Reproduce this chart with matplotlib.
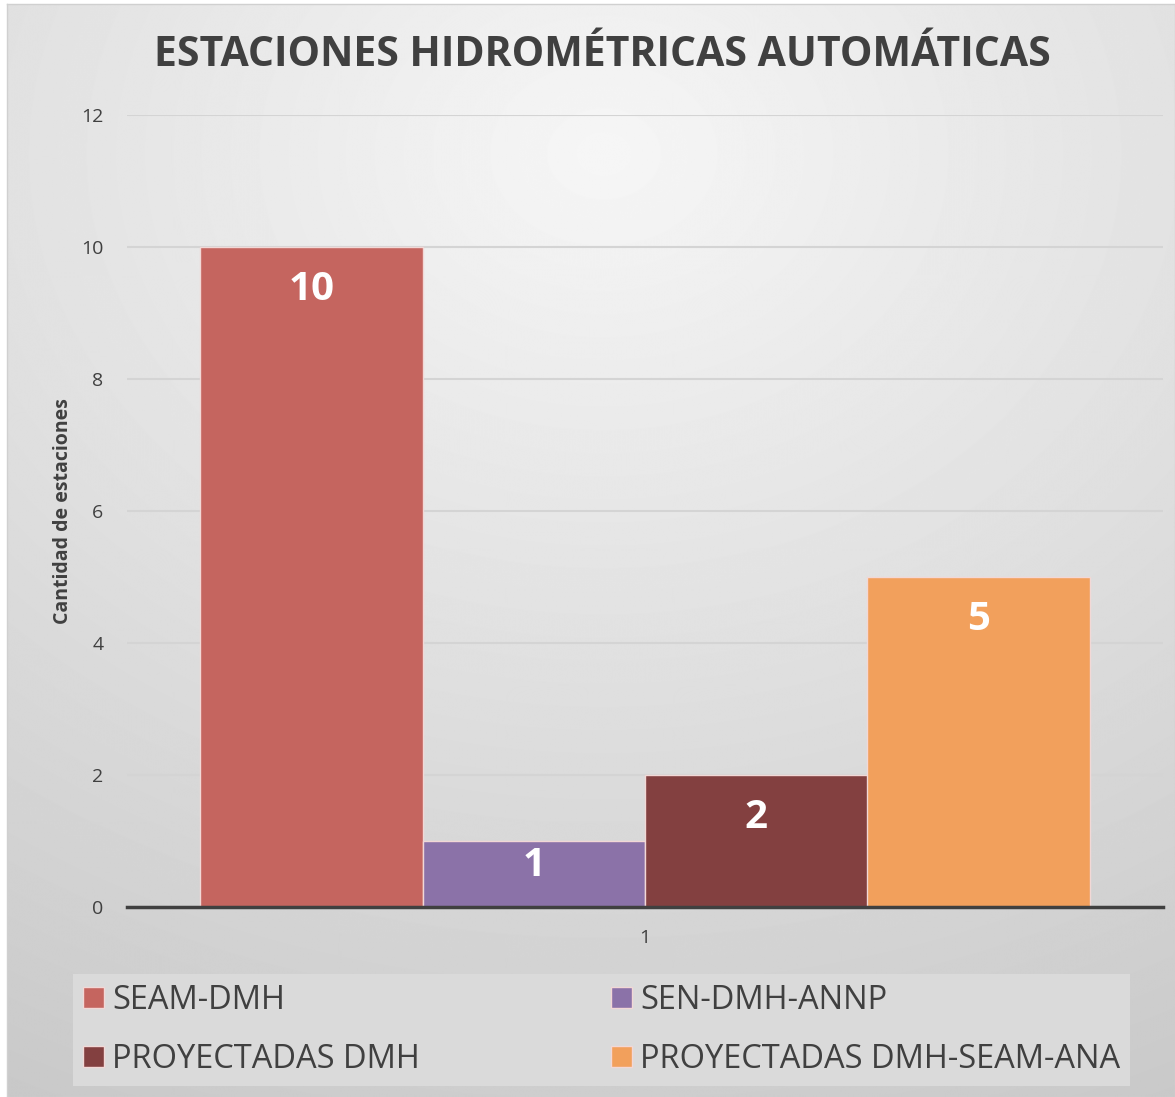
import matplotlib
matplotlib.use('Agg')
import matplotlib.pyplot as plt
import numpy as np

plt.rcParams['font.family'] = ['Open Sans', 'DejaVu Sans']

series = ['SEAM-DMH', 'SEN-DMH-ANNP', 'PROYECTADAS DMH', 'PROYECTADAS DMH-SEAM-ANA']
values = [10, 1, 2, 5]
colors = ['#C5655F', '#8B72A8', '#834040', '#F2A05C']
category = 1
yticks = [0, 2, 4, 6, 8, 10, 12]

W, H = 1175, 1097
fig = plt.figure(figsize=(W / 100, H / 100), dpi=100)
fig.patch.set_facecolor('white')

# ── background: soft gray gradient, brightest near the title ─────────────────
bg = fig.add_axes([7 / W, 0, 1 - 7 / W, 1 - 4 / H])
yy, xx = np.mgrid[0:H, 0:W]
r = np.sqrt(((xx - 600) * 0.8) ** 2 + (yy - 150) ** 2)
shade = np.clip(246 - 0.043 * r, 0, 255) / 255.0
bg.imshow(shade, cmap='gray', vmin=0, vmax=1, aspect='auto', interpolation='bilinear')
bg.set_xticks([]); bg.set_yticks([])
for s in bg.spines.values():
    s.set_color('#D0D0D0'); s.set_linewidth(1)
bg.set_zorder(0)

# ── bars ──────────────────────────────────────────────────────────────────────
ax = fig.add_axes([127 / W, 1 - 907 / H, (1163 - 127) / W, (907 - 115) / H])
ax.set_zorder(1)
ax.patch.set_alpha(0)
bw = 222.5 / 1036
n = len(values)
for i, (lab, v, c) in enumerate(zip(series, values, colors)):
    x = category + (i - (n - 1) / 2) * bw
    ax.bar(x, v, width=bw, color=c, edgecolor='#F2D8D6', linewidth=1, label=lab, zorder=3)
    px = v * 792 / 12
    off = min(43, px / 2 - 8)
    ax.annotate(str(v), xy=(x, v), xytext=(0, -off * 0.72), textcoords='offset points',
                ha='center', va='center', color='white', fontsize=29, fontweight='bold', zorder=4)

ax.set_xlim(0.5, 1.5)
ax.set_ylim(0, 12)
ax.set_yticks(yticks)
ax.set_xticks([category])
ax.grid(axis='y', color='#D4D4D4', linewidth=1.5, zorder=0)
ax.set_axisbelow(True)
for s in ['top', 'right', 'left']:
    ax.spines[s].set_visible(False)
ax.spines['bottom'].set_color('#404040')
ax.spines['bottom'].set_linewidth(2.5)
ax.spines['bottom'].set_zorder(5)
ax.tick_params(axis='both', length=0, labelsize=14, labelcolor='#404040')
ax.tick_params(axis='y', pad=17)
ax.tick_params(axis='x', pad=16)
ax.set_ylabel('Cantidad de estaciones', fontsize=14, fontweight='bold', color='#404040', labelpad=6)

fig.text(602 / W, 1 - 55 / H, 'ESTACIONES HIDROMÉTRICAS AUTOMÁTICAS', ha='center', va='center',
         fontsize=29.5, fontweight='bold', color='#404040')

# ── legend ────────────────────────────────────────────────────────────────────
h, l = ax.get_legend_handles_labels()
order = [0, 2, 1, 3]
leg = fig.legend([h[k] for k in order], [l[k] for k in order], ncol=2, mode='expand',
                 bbox_to_anchor=(73 / W, 1 - 1090 / H, (1130 - 73) / W, 120 / H),
                 loc='center', fontsize=23.5, frameon=True, fancybox=False,
                 handlelength=0.65, handleheight=0.65, handletextpad=0.25,
                 labelspacing=0.8, borderpad=0.3, borderaxespad=0)
leg.get_frame().set_facecolor('#DADADA')
leg.get_frame().set_edgecolor('none')
leg.get_frame().set_alpha(1)
for t in leg.get_texts():
    t.set_color('#404040')

plt.savefig('out.png', dpi=100, facecolor='white')
plt.close()
